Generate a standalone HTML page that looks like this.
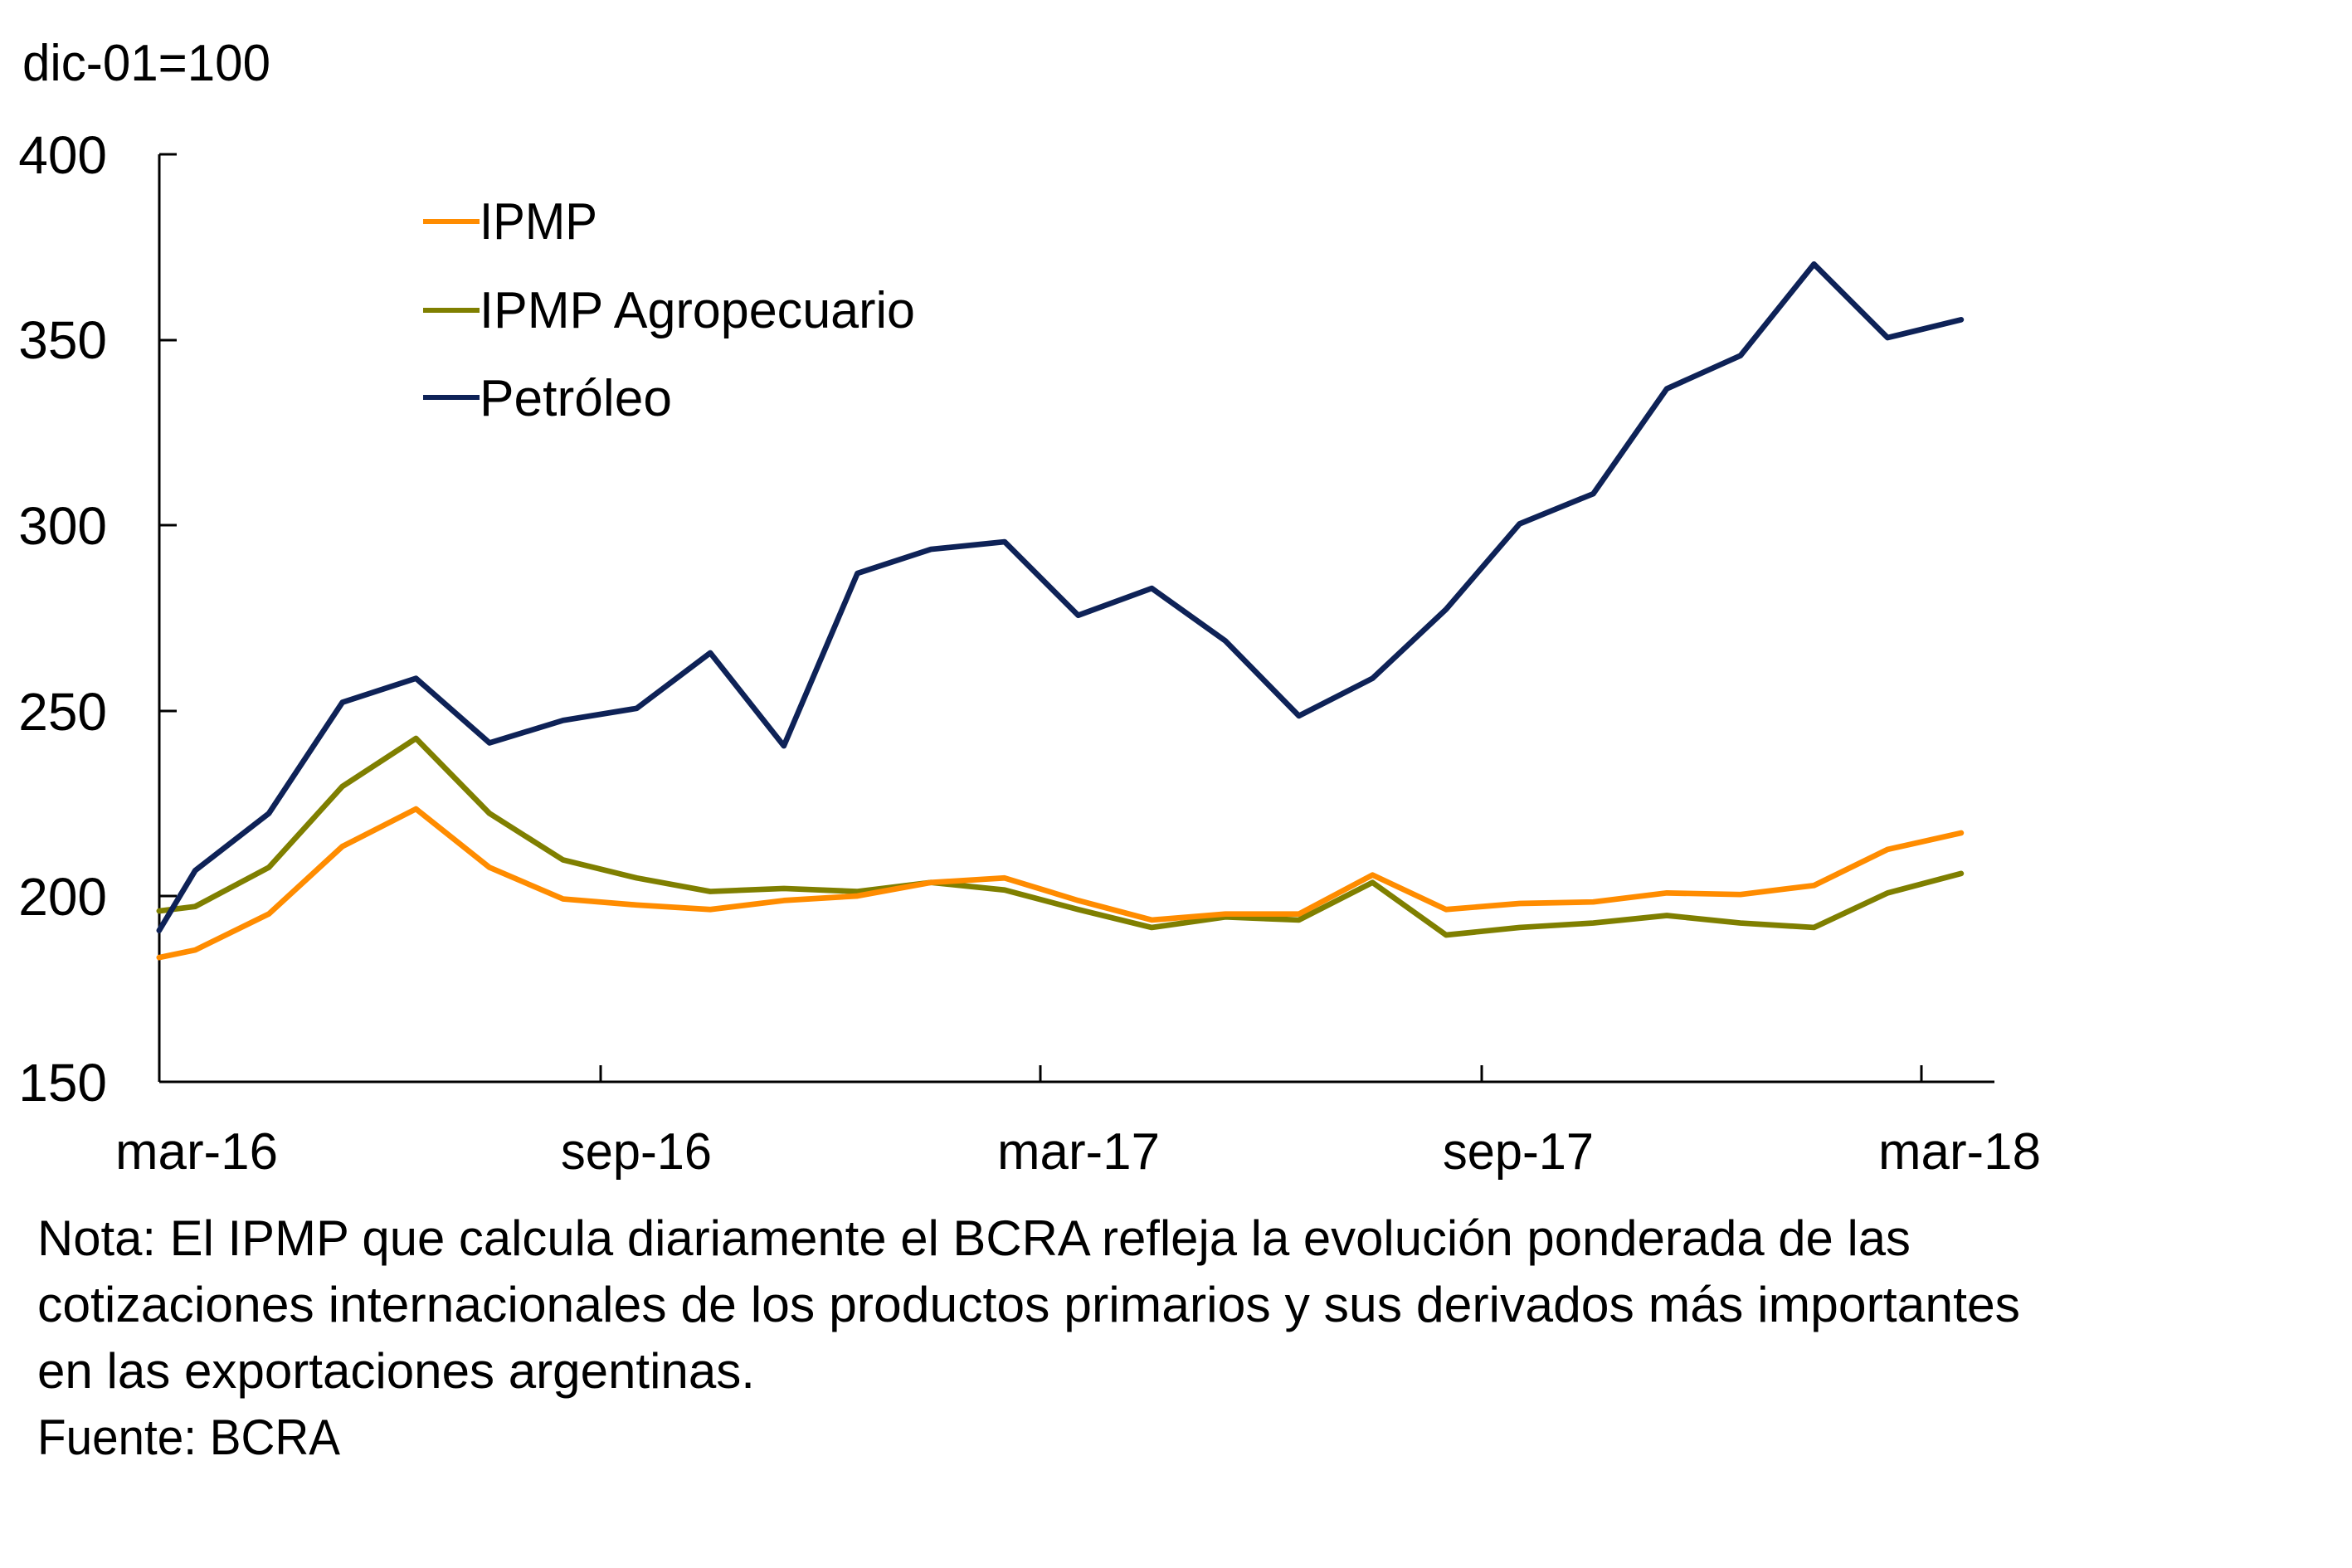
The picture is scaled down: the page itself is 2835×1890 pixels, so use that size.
<!DOCTYPE html>
<html><head><meta charset="utf-8"><style>html,body{margin:0;padding:0;background:#fff}svg{display:block}</style></head>
<body>
<svg width="2835" height="1890" viewBox="0 0 2835 1890" xmlns="http://www.w3.org/2000/svg" font-family="'Liberation Sans', sans-serif" fill="#000">
<rect width="2835" height="1890" fill="#fff"/>
<text x="27" y="97" font-size="62" textLength="299" lengthAdjust="spacingAndGlyphs">dic-01=100</text>
<g font-size="64" text-anchor="end">
<text x="129" y="209">400</text>
<text x="129" y="432">350</text>
<text x="129" y="656">300</text>
<text x="129" y="880">250</text>
<text x="129" y="1103">200</text>
<text x="129" y="1327">150</text>
</g>
<g stroke="#000" stroke-width="3" fill="none">
<line x1="192" y1="186" x2="192" y2="1304"/>
<line x1="192" y1="186" x2="213" y2="186"/>
<line x1="192" y1="410" x2="213" y2="410"/>
<line x1="192" y1="633" x2="213" y2="633"/>
<line x1="192" y1="857" x2="213" y2="857"/>
<line x1="192" y1="1080" x2="213" y2="1080"/>
<line x1="192" y1="1304" x2="2404" y2="1304"/>
<line x1="724" y1="1304" x2="724" y2="1284"/>
<line x1="1254" y1="1304" x2="1254" y2="1284"/>
<line x1="1786" y1="1304" x2="1786" y2="1284"/>
<line x1="2316" y1="1304" x2="2316" y2="1284"/>
</g>
<g font-size="62" text-anchor="middle">
<text x="237" y="1409" textLength="196" lengthAdjust="spacingAndGlyphs">mar-16</text>
<text x="767" y="1409" textLength="182" lengthAdjust="spacingAndGlyphs">sep-16</text>
<text x="1300" y="1409" textLength="196" lengthAdjust="spacingAndGlyphs">mar-17</text>
<text x="1830" y="1409" textLength="182" lengthAdjust="spacingAndGlyphs">sep-17</text>
<text x="2362" y="1409" textLength="196" lengthAdjust="spacingAndGlyphs">mar-18</text>
</g>
<g stroke-width="6" fill="none" stroke-linejoin="round">
<line x1="510" y1="267" x2="578" y2="267" stroke="#FF8C00"/>
<line x1="510" y1="374" x2="578" y2="374" stroke="#7F7F00"/>
<line x1="510" y1="479" x2="578" y2="479" stroke="#0E2257"/>
</g>
<g font-size="62">
<text x="578" y="288" textLength="142" lengthAdjust="spacingAndGlyphs">IPMP</text>
<text x="578" y="395" textLength="525" lengthAdjust="spacingAndGlyphs">IPMP Agropecuario</text>
<text x="578" y="501" textLength="232" lengthAdjust="spacingAndGlyphs">Petróleo</text>
</g>
<g transform="scale(1.81,1.809)" fill="none" stroke-linejoin="round" stroke-linecap="round">
<polyline stroke="#7F7F00" stroke-width="3.7" points="106,607 130,604 179,578 228,524 277,492 326,542 375,573 424,585 473,594 522,592 571,594 620,588 669,593 718,606 767,618 816,611 865,613 914,588 963,623 1012,618 1061,615 1110,610 1159,615 1208,618 1257,595 1306,582"/>
<polyline stroke="#FF8C00" stroke-width="3.7" points="106,638 130,633 179,609 228,564 277,539 326,578 375,599 424,603 473,606 522,600 571,597 620,588 669,585 718,600 767,613 816,609 865,609 914,583 963,606 1012,602 1061,601 1110,595 1159,596 1208,590 1257,566 1306,555"/>
<polyline stroke="#0E2257" stroke-width="3.7" points="106,620 130,580 179,542 228,468 277,452 326,495 375,480 424,472 473,435 522,497 571,382 620,366 669,361 718,410 767,392 816,427 865,477 914,452 963,406 1012,349 1061,329 1110,259 1159,237 1208,176 1257,225 1306,213"/>
</g>
<g font-size="60">
<text x="45" y="1513" textLength="2258" lengthAdjust="spacingAndGlyphs">Nota: El IPMP que calcula diariamente el BCRA refleja la evolución ponderada de las</text>
<text x="45" y="1593" textLength="2390" lengthAdjust="spacingAndGlyphs">cotizaciones internacionales de los productos primarios y sus derivados más importantes</text>
<text x="45" y="1673" textLength="865" lengthAdjust="spacingAndGlyphs">en las exportaciones argentinas.</text>
<text x="45" y="1753" textLength="365" lengthAdjust="spacingAndGlyphs">Fuente: BCRA</text>
</g>
</svg>
</body></html>
